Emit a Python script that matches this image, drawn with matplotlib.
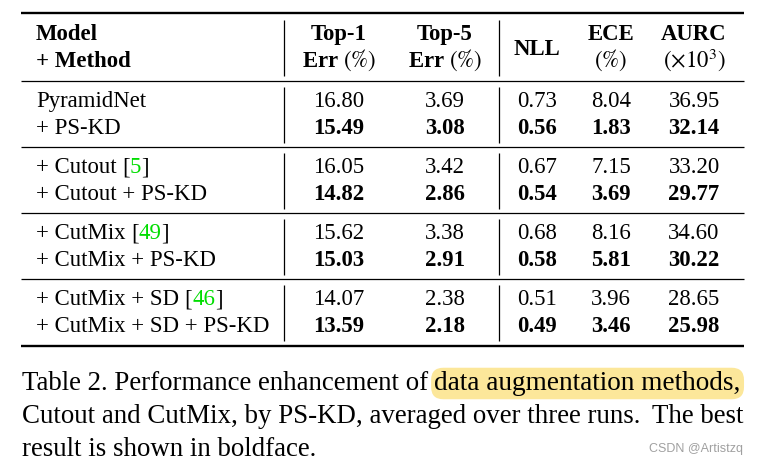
import matplotlib
matplotlib.use("Agg")
import matplotlib.pyplot as plt

plt.rcParams['font.family'] = ['Liberation Serif', 'DejaVu Serif']
plt.rcParams['mathtext.fontset'] = 'stix'

# table data
methods = ["PyramidNet", "+ PS-KD", "+ Cutout", "+ Cutout + PS-KD",
           "+ CutMix", "+ CutMix + PS-KD", "+ CutMix + SD", "+ CutMix + SD + PS-KD"]
refs = ["", "", "5", "", "49", "", "46", ""]
top1 = [16.80, 15.49, 16.05, 14.82, 15.62, 15.03, 14.07, 13.59]
top5 = [3.69, 3.08, 3.42, 2.86, 3.38, 2.91, 2.38, 2.18]
nll = [0.73, 0.56, 0.67, 0.54, 0.68, 0.58, 0.51, 0.49]
ece = [8.04, 1.83, 7.15, 3.69, 8.16, 5.81, 3.96, 3.46]
aurc = [36.95, 32.14, 33.20, 29.77, 34.60, 30.22, 28.65, 25.98]
head1 = ["Top-1", "Top-5", "ECE", "AURC"]
head2 = [r"Err $(\%)$", r"Err $(\%)$", r"$(\%)$", r"$(\times 10^3)$"]

caption1a = "Table 2. Performance enhancement of"
caption1b = "data augmentation methods,"
caption2a = "Cutout and CutMix, by PS-KD, averaged over three runs."
caption2b = "The best"
caption3 = "result is shown in boldface."

fig = plt.figure(figsize=(7.58, 4.65), dpi=100)
ax = fig.add_axes([0, 0, 1, 1])
ax.set_xlim(0, 758)
ax.set_ylim(465, 0)
ax.axis('off')

fs = 16.4
col_x = [339, 445, 537, 611, 694]
x_left, x_right = 21, 744
vx = [284, 499]

# rules
ax.hlines(13, x_left, x_right, color='black', lw=1.7)
ax.hlines(346, x_left, x_right, color='black', lw=1.7)
ax.vlines(vx, 20, 76, color='black', lw=0.9)

# header
ax.text(36, 40, "Model", fontsize=fs, fontweight='bold', va='baseline')
ax.text(36, 67, "+ Method", fontsize=fs, fontweight='bold', va='baseline')
hx = [col_x[0], col_x[1], col_x[3], col_x[4]]
for x, h1, h2 in zip(hx, head1, head2):
    ax.text(x, 40, h1, fontsize=fs, fontweight='bold', ha='center', va='baseline')
    ax.text(x, 67, h2, fontsize=fs, fontweight='bold', ha='center', va='baseline')
ax.text(col_x[2], 55, "NLL", fontsize=fs, fontweight='bold', ha='center', va='baseline')

# body
for g in range(4):
    ry = 81 + 66 * g
    ax.hlines(ry, x_left, x_right, color='black', lw=0.9)
    ax.vlines(vx, ry + 6, ry + 62, color='black', lw=0.9)
    for k in range(2):
        i = 2 * g + k
        by = ry + 26 + 27 * k
        t = ax.text(36, by, methods[i], fontsize=fs, va='baseline')
        if refs[i]:
            b1 = ax.annotate("[", xy=(1, 0), xycoords=t, xytext=(4, 0),
                             textcoords='offset points', fontsize=fs, va='bottom')
            b2 = ax.annotate(refs[i], xy=(1, 0), xycoords=b1, fontsize=fs,
                             va='bottom', color='#00dd00')
            ax.annotate("]", xy=(1, 0), xycoords=b2, fontsize=fs, va='bottom')
        w = 'bold' if k == 1 else 'normal'
        for x, v in zip(col_x, [top1[i], top5[i], nll[i], ece[i], aurc[i]]):
            ax.text(x, by, f"{v:.2f}", fontsize=fs, fontweight=w,
                    ha='center', va='baseline')

# caption
cfs = 19.4
c1 = ax.text(22, 390, caption1a, fontsize=cfs, va='baseline')
ax.annotate(caption1b, xy=(1, 0), xycoords=c1, xytext=(4.5, 0),
            textcoords='offset points', fontsize=19.6, va='bottom',
            bbox=dict(boxstyle='round,pad=0.12,rounding_size=0.45',
                      fc='#fce79a', ec='none'))
ax.text(22, 423, caption2a, fontsize=cfs, va='baseline')
ax.text(744, 423, caption2b, fontsize=cfs, va='baseline', ha='right')
ax.text(22, 456, caption3, fontsize=cfs, va='baseline')

ax.text(743, 452, "CSDN @Artistzq", fontsize=9, color='#a0a0a0',
        family='Liberation Sans', ha='right', va='baseline')

fig.savefig("out.png", dpi=100)
